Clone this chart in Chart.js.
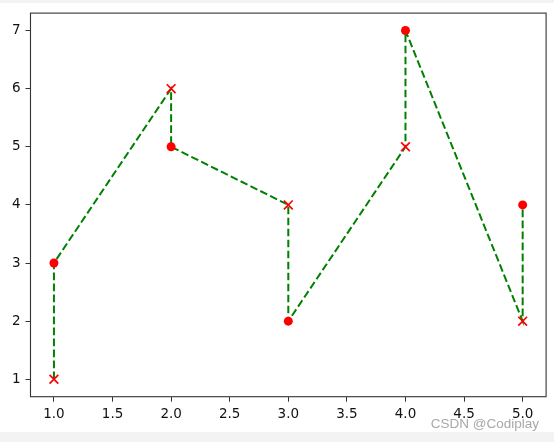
<!DOCTYPE html>
<html>
<head>
<meta charset="utf-8">
<script src="https://cdn.jsdelivr.net/npm/chart.js@4.4.0/dist/chart.umd.min.js"></script>
<style>
  html, body { margin: 0; padding: 0; background: #fff; }
  #wrap { width: 554px; height: 442px; position: relative; }
</style>
</head>
<body>
<div id="wrap"><canvas id="myChart" width="554" height="442"></canvas></div>
<script>
// data
var xValues = [1, 2, 3, 4, 5];
var circleY = [3, 5, 2, 7, 4];   // red dots
var crossY = [1, 6, 4, 5, 2];    // red x markers
var xTicks = [1.0, 1.5, 2.0, 2.5, 3.0, 3.5, 4.0, 4.5, 5.0];
var yTicks = [1, 2, 3, 4, 5, 6, 7];
var watermark = "CSDN @Codiplay";

// the dashed path goes x marker -> dot at every x
var pathPoints = [];
xValues.forEach(function (x, i) {
    pathPoints.push({x: x, y: crossY[i]});
    pathPoints.push({x: x, y: circleY[i]});
});

var canvas = document.getElementById("myChart");
var ctx = canvas.getContext("2d");

// background, page strips, frame and watermark
var framePlugin = {
    id: 'frame',
    beforeDraw: function (chart) {
        var c = chart.ctx;
        c.save();
        c.fillStyle = '#ffffff';
        c.fillRect(0, 0, chart.width, chart.height);
        c.fillStyle = '#f3f3f3';
        c.fillRect(0, 0, chart.width, 3);
        c.fillRect(0, 432, chart.width, 10);
        c.restore();
    },
    afterDraw: function (chart) {
        var a = chart.chartArea;
        var c = chart.ctx;
        c.save();
        c.strokeStyle = '#333';
        c.lineWidth = 1.1;
        c.strokeRect(a.left, a.top, a.right - a.left, a.bottom - a.top);
        c.fillStyle = '#a8a8a8';
        c.font = '13.5px "Liberation Sans", Arial, sans-serif';
        c.textAlign = 'right';
        c.textBaseline = 'alphabetic';
        c.fillText(watermark, 539, 428);
        c.restore();
    }
};

var myChart = new Chart(ctx, {
    type: 'scatter',
    data: {
        datasets: [{
            label: 'dots',
            data: xValues.map(function (x, i) { return {x: x, y: circleY[i]}; }),
            backgroundColor: '#ff0000',
            borderColor: '#ff0000',
            pointStyle: 'circle',
            pointRadius: 4.5,
            borderWidth: 0,
            order: 1
        }, {
            label: 'crosses',
            data: xValues.map(function (x, i) { return {x: x, y: crossY[i]}; }),
            borderColor: '#ff0000',
            pointStyle: 'crossRot',
            pointRadius: 6.2,
            borderWidth: 1.7,
            order: 2
        }, {
            label: 'path',
            type: 'line',
            data: pathPoints,
            borderColor: '#008000',
            borderWidth: 2,
            borderDash: [7.7, 3.3],
            pointRadius: 0,
            fill: false,
            tension: 0,
            order: 3
        }]
    },
    options: {
        responsive: false,
        animation: false,
        layout: { padding: { left: 0, right: 6.5, top: 11.5, bottom: 0 } },
        plugins: {
            legend: { display: false },
            tooltip: { enabled: false }
        },
        scales: {
            x: {
                type: 'linear',
                min: 0.8,
                max: 5.2,
                grid: { display: true, drawOnChartArea: false, drawTicks: true, tickLength: 5, color: '#333' },
                border: { display: false },
                ticks: {
                    color: '#111',
                    padding: 5,
                    font: { family: 'DejaVu Sans', size: 13.5 },
                    callback: function (v) { return v.toFixed(1); }
                },
                afterBuildTicks: function (scale) {
                    scale.ticks = xTicks.map(function (v) { return {value: v}; });
                },
                afterFit: function (scale) { scale.height = 45.3; }
            },
            y: {
                type: 'linear',
                min: 0.7,
                max: 7.3,
                grid: { display: true, drawOnChartArea: false, drawTicks: true, tickLength: 5, color: '#333' },
                border: { display: false },
                ticks: {
                    color: '#111',
                    padding: 5,
                    font: { family: 'DejaVu Sans', size: 13.5 },
                    callback: function (v) { return String(v); }
                },
                afterBuildTicks: function (scale) {
                    scale.ticks = yTicks.map(function (v) { return {value: v}; });
                },
                afterFit: function (scale) { scale.width = 30.5; }
            }
        }
    },
    plugins: [framePlugin]
});
</script>
</body>
</html>
